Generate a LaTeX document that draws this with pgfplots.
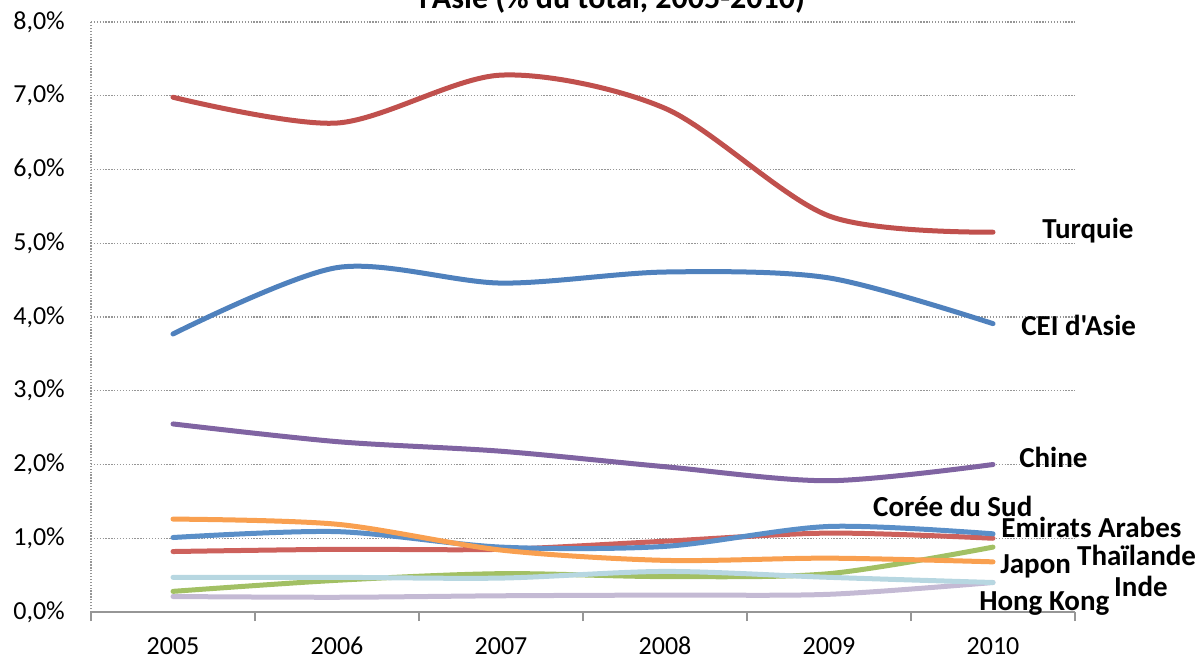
\documentclass[border=0pt]{standalone}
\usepackage{fontspec}
\setmainfont{Carlito}[Ligatures=TeXOff]
\usepackage{pgfplots}
\pgfplotsset{compat=1.18}
\definecolor{cTur}{RGB}{192,80,77}
\definecolor{cCEI}{RGB}{79,129,189}
\definecolor{cChi}{RGB}{128,100,162}
\definecolor{cCor}{RGB}{90,143,200}
\definecolor{cEmi}{RGB}{205,97,92}
\definecolor{cJap}{RGB}{249,160,80}
\definecolor{cTha}{RGB}{162,192,100}
\definecolor{cInd}{RGB}{183,215,225}
\definecolor{cHK}{RGB}{196,186,212}
\definecolor{gridgray}{RGB}{150,150,150}
\begin{document}
\begin{tikzpicture}
\path[use as bounding box, clip] (-91pt,-45pt) rectangle (1107pt,612pt);
\node[anchor=base, inner sep=0pt, font=\bfseries\fontsize{32}{36}\selectfont] at (521pt,603pt) {l'Asie (\% du total, 2005-2010)};
\begin{axis}[
  at={(0pt,0pt)}, anchor=south west,
  width=984pt, height=590pt, scale only axis,
  xmin=-0.5, xmax=5.5, ymin=0, ymax=8,
  xtick={0,1,2,3,4,5},
  xticklabels={2005,2006,2007,2008,2009,2010},
  ytick={0,1,2,3,4,5,6,7,8},
  yticklabels={{0,0\%},{1,0\%},{2,0\%},{3,0\%},{4,0\%},{5,0\%},{6,0\%},{7,0\%},{8,0\%}},
  major tick length=0pt,
  extra x ticks={-0.5,0.5,1.5,2.5,3.5,4.5,5.5},
  extra x tick labels={},
  extra x tick style={major tick length=9pt, tick align=outside, tick style={gridgray, line width=1.5pt}},
  axis x line*=bottom, axis y line*=left,
  x axis line style={gridgray, line width=2pt, -},
  y axis line style={gridgray, line width=1.3pt, dash pattern=on 1.3pt off 1.6pt, -},
  ymajorgrids,
  grid style={gridgray, line width=1.3pt, dash pattern=on 1.3pt off 1.6pt},
  clip=false,
  xticklabel style={font=\fontsize{26}{30}\selectfont, inner sep=0pt, anchor=north, yshift=-25pt},
  yticklabel style={font=\fontsize{26}{30}\selectfont, inner sep=0pt, anchor=east, xshift=-26pt},
  every axis plot/.append style={line width=5pt, line cap=round, line join=round, smooth, tension=0.5},
]
\addplot[cHK] coordinates {(0,0.21) (1,0.20) (2,0.22) (3,0.23) (4,0.24) (5,0.40)};
\addplot[cTha] coordinates {(0,0.28) (1,0.43) (2,0.52) (3,0.48) (4,0.52) (5,0.88)};
\addplot[cInd] coordinates {(0,0.47) (1,0.47) (2,0.46) (3,0.55) (4,0.47) (5,0.40)};
\addplot[cEmi] coordinates {(0,0.82) (1,0.85) (2,0.85) (3,0.96) (4,1.07) (5,1.00)};
\addplot[cCor] coordinates {(0,1.01) (1,1.09) (2,0.88) (3,0.89) (4,1.16) (5,1.06)};
\addplot[cJap] coordinates {(0,1.26) (1,1.19) (2,0.84) (3,0.70) (4,0.73) (5,0.68)};
\addplot[cChi] coordinates {(0,2.55) (1,2.31) (2,2.18) (3,1.97) (4,1.78) (5,2.00)};
\addplot[cCEI] coordinates {(0,3.77) (1,4.67) (2,4.46) (3,4.61) (4,4.53) (5,3.91)};
\addplot[cTur] coordinates {(0,6.98) (1,6.63) (2,7.28) (3,6.83) (4,5.37) (5,5.15)};
\begin{scope}[every node/.style={anchor=base west, inner sep=0pt, font=\bfseries\fontsize{29}{32}\selectfont}]
\node at (axis cs:5.299,5.07) {Turquie};
\node at (axis cs:5.171,3.756) {CEI d'Asie};
\node at (axis cs:5.159,1.962) {Chine};
\node at (axis cs:4.268,1.292) {Corée du Sud};
\node at (axis cs:5.050,1.013) {Emirats Arabes};
\node at (axis cs:5.512,0.637) {Thaïlande};
\node at (axis cs:5.043,0.525) {Japon};
\node at (axis cs:5.738,0.217) {Inde};
\node at (axis cs:4.915,0.027) {Hong Kong};
\end{scope}
\end{axis}
\end{tikzpicture}
\end{document}
